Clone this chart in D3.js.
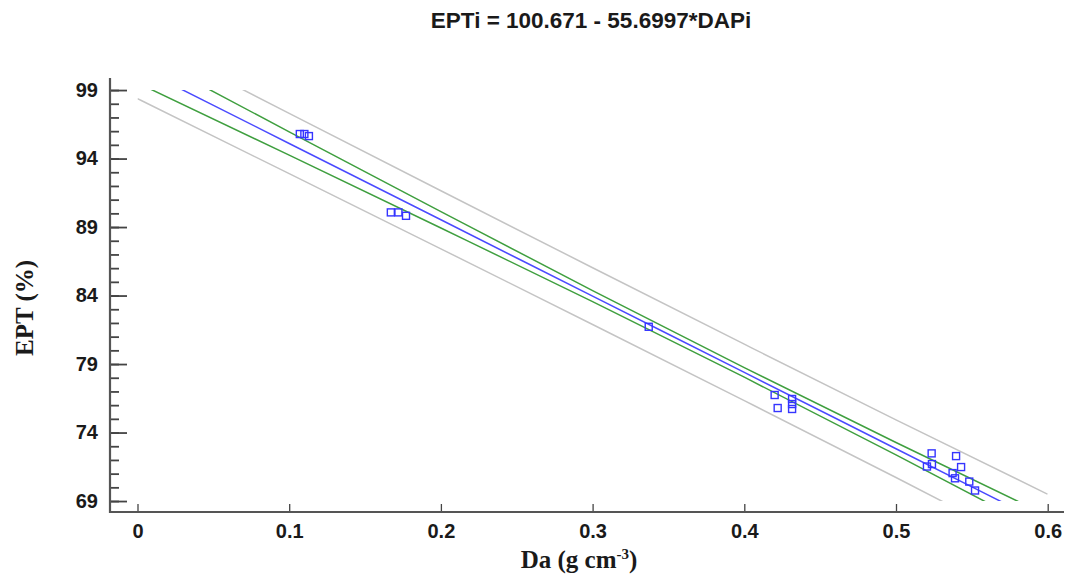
<!DOCTYPE html>
<html>
<head>
<meta charset="utf-8">
<script src="https://cdn.jsdelivr.net/npm/d3@7"></script>
<style>
  body { margin: 0; background: #fff; }
  .tick text { font-family: "Liberation Sans", Arial, sans-serif; font-weight: bold; font-size: 20px; fill: #1a1a1a; }
</style>
</head>
<body>
<div id="chart"></div>
<script>
// observed points (Da, EPT)
var daValues = [0.107, 0.110, 0.113, 0.167, 0.172, 0.177, 0.337,
  0.420, 0.422, 0.4315, 0.4315, 0.4315,
  0.5204, 0.5235, 0.5237, 0.5373, 0.5389, 0.5396, 0.5429, 0.5483, 0.5521];
var eptValues = [95.79, 95.79, 95.64, 90.07, 90.07, 89.82, 81.72,
  76.74, 75.79, 76.45, 76.08, 75.72,
  71.52, 72.48, 71.70, 71.04, 70.66, 72.28, 71.48, 70.42, 69.77];

// fitted line and limits read at these Da values
var bandX = [0, 0.1, 0.2, 0.3, 0.4, 0.5, 0.6];
var fitLine = [100.67, 95.10, 89.53, 83.96, 78.39, 72.82, 67.25];
var ciUpper = [101.82, 95.95, 90.13, 84.36, 78.74, 73.27, 67.93];
var ciLower = [99.52, 94.25, 88.93, 83.56, 78.04, 72.37, 66.57];
var piUpper = [102.97, 97.30, 91.65, 86.03, 80.45, 74.92, 69.50];
var piLower = [98.37, 92.90, 87.41, 81.89, 76.33, 70.72, 65.00];

var xTicks = [0, 0.1, 0.2, 0.3, 0.4, 0.5, 0.6];
var yTicks = [69, 74, 79, 84, 89, 94, 99];
var yMinorTicks = d3.range(69, 100, 1);

var width = 1066,
  height = 575;

var svg = d3.select("#chart")
  .append("svg")
  .attr("width", width)
  .attr("height", height);

var x = d3.scaleLinear().domain([0, 0.6]).range([137.5, 1047.7]);
var y = d3.scaleLinear().domain([68.2, 99.88]).range([512, 78]);

var axisX = 110,
  axisY = 512;

// clip for the model lines
svg.append("clipPath")
  .attr("id", "plotClip")
  .append("rect")
  .attr("x", x(0))
  .attr("y", y(99))
  .attr("width", x(0.6) - x(0))
  .attr("height", y(69) - y(99));

var lineGen = function(vals) {
  return d3.line()
    .x(function(d, i) { return x(bandX[i]); })
    .y(function(d) { return y(d); })
    .curve(d3.curveMonotoneX)(vals);
};

var lines = svg.append("g").attr("clip-path", "url(#plotClip)");

[
  { v: piUpper, c: "#c4c4c4" },
  { v: piLower, c: "#c4c4c4" },
  { v: ciUpper, c: "#3f9f3f" },
  { v: ciLower, c: "#3f9f3f" },
  { v: fitLine, c: "#4a4aff" }
].forEach(function(s) {
  lines.append("path")
    .attr("d", lineGen(s.v))
    .attr("fill", "none")
    .attr("stroke", s.c)
    .attr("stroke-width", 1.5);
});

// points
var sq = 7;
svg.append("g")
  .selectAll("rect")
  .data(daValues)
  .enter()
  .append("rect")
  .attr("x", function(d) { return x(d) - sq / 2; })
  .attr("y", function(d, i) { return y(eptValues[i]) - sq / 2; })
  .attr("width", sq)
  .attr("height", sq)
  .attr("fill", "none")
  .attr("stroke", "#3535ff")
  .attr("stroke-width", 1.4);

// y axis
var yMinor = svg.append("g")
  .attr("transform", "translate(" + axisX + ",0)")
  .call(d3.axisLeft(y).tickValues(yMinorTicks).tickSize(-9).tickFormat(""));
yMinor.select(".domain").remove();

var yAxis = svg.append("g")
  .attr("transform", "translate(" + axisX + ",0)")
  .call(d3.axisLeft(y).tickValues(yTicks).tickSize(-17).tickPadding(12).tickFormat(d3.format("d")));
yAxis.select(".domain").remove();

// x axis
var xAxis = svg.append("g")
  .attr("transform", "translate(0," + axisY + ")")
  .call(d3.axisBottom(x).tickValues(xTicks).tickSize(-8).tickPadding(12)
    .tickFormat(function(d) { return d === 0 ? "0" : d3.format(".1f")(d); }));
xAxis.select(".domain").remove();

svg.selectAll(".tick line").attr("stroke", "#444").attr("stroke-width", 1.8);
xAxis.selectAll(".tick line").attr("stroke-width", 1.3);

svg.append("line")
  .attr("x1", axisX).attr("x2", axisX)
  .attr("y1", 78).attr("y2", axisY + 1)
  .attr("stroke", "#555").attr("stroke-width", 2.2);
svg.append("line")
  .attr("x1", axisX - 1).attr("x2", 1064)
  .attr("y1", axisY).attr("y2", axisY)
  .attr("stroke", "#555").attr("stroke-width", 2.2);

// titles
svg.append("text")
  .attr("x", 591)
  .attr("y", 28)
  .attr("text-anchor", "middle")
  .style("font-family", "'Liberation Sans', Arial, sans-serif")
  .style("font-weight", "bold")
  .style("font-size", "22.5px")
  .style("fill", "#1a1a1a")
  .text("EPTi = 100.671 - 55.6997*DAPi");

svg.append("text")
  .attr("transform", "translate(33,308) rotate(-90)")
  .attr("text-anchor", "middle")
  .style("font-family", "'Liberation Serif', 'Times New Roman', serif")
  .style("font-weight", "bold")
  .style("font-size", "25px")
  .style("fill", "#1a1a1a")
  .text("EPT (%)");

var xt = svg.append("text")
  .attr("x", 579)
  .attr("y", 568)
  .attr("text-anchor", "middle")
  .style("font-family", "'Liberation Serif', 'Times New Roman', serif")
  .style("font-weight", "bold")
  .style("font-size", "25px")
  .style("fill", "#1a1a1a");
xt.append("tspan").text("Da (g cm");
xt.append("tspan").attr("dy", -9).style("font-size", "15px").text("-3");
xt.append("tspan").attr("dy", 9).text(")");
</script>
</body>
</html>
